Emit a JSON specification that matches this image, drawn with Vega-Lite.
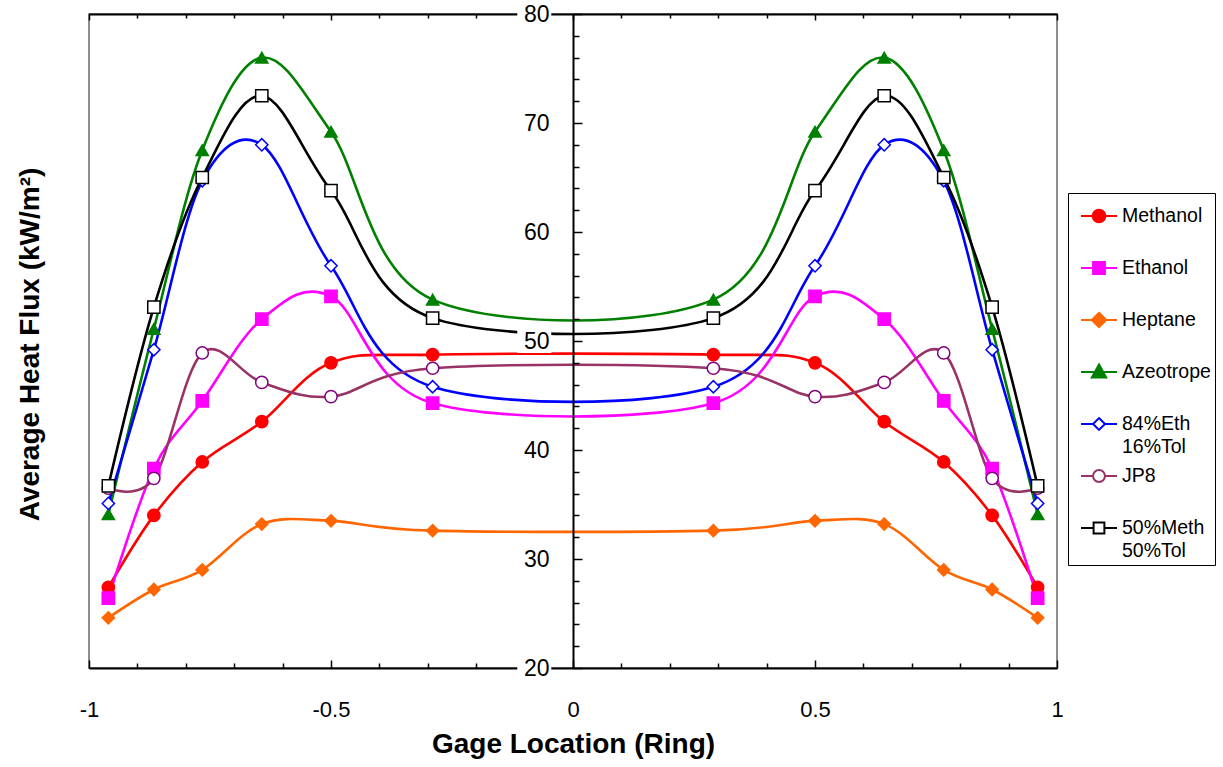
{
  "$schema": "https://vega.github.io/schema/vega-lite/v6.json",
  "width": 968,
  "height": 654,
  "autosize": {"type": "none"},
  "padding": {"left": 89, "top": 14, "right": 166, "bottom": 99},
  "background": "white",
  "view": {"stroke": "#8c8c8c", "strokeWidth": 2},
  "config": {
    "font": "Liberation Sans",
    "axis": {"grid": false, "labelFont": "Liberation Sans", "titleFont": "Liberation Sans"},
    "legend": {"labelFont": "Liberation Sans"}
  },
  "datasets": {
    "main": [
      {"f": "Methanol", "x": -0.96, "y": 27.4}, {"f": "Methanol", "x": -0.866, "y": 34.0}, {"f": "Methanol", "x": -0.766, "y": 38.9}, {"f": "Methanol", "x": -0.643, "y": 42.6}, {"f": "Methanol", "x": -0.5, "y": 48.0}, {"f": "Methanol", "x": -0.29, "y": 48.75},
      {"f": "Methanol", "x": 0.29, "y": 48.75}, {"f": "Methanol", "x": 0.5, "y": 48.0}, {"f": "Methanol", "x": 0.643, "y": 42.6}, {"f": "Methanol", "x": 0.766, "y": 38.9}, {"f": "Methanol", "x": 0.866, "y": 34.0}, {"f": "Methanol", "x": 0.96, "y": 27.4},
      {"f": "Ethanol", "x": -0.96, "y": 26.4}, {"f": "Ethanol", "x": -0.866, "y": 38.3}, {"f": "Ethanol", "x": -0.766, "y": 44.5}, {"f": "Ethanol", "x": -0.643, "y": 52.0}, {"f": "Ethanol", "x": -0.5, "y": 54.1}, {"f": "Ethanol", "x": -0.29, "y": 44.3},
      {"f": "Ethanol", "x": 0.29, "y": 44.3}, {"f": "Ethanol", "x": 0.5, "y": 54.1}, {"f": "Ethanol", "x": 0.643, "y": 52.0}, {"f": "Ethanol", "x": 0.766, "y": 44.5}, {"f": "Ethanol", "x": 0.866, "y": 38.3}, {"f": "Ethanol", "x": 0.96, "y": 26.4},
      {"f": "Heptane", "x": -0.96, "y": 24.6}, {"f": "Heptane", "x": -0.866, "y": 27.2}, {"f": "Heptane", "x": -0.766, "y": 29.0}, {"f": "Heptane", "x": -0.643, "y": 33.2}, {"f": "Heptane", "x": -0.5, "y": 33.5}, {"f": "Heptane", "x": -0.29, "y": 32.6},
      {"f": "Heptane", "x": 0.29, "y": 32.6}, {"f": "Heptane", "x": 0.5, "y": 33.5}, {"f": "Heptane", "x": 0.643, "y": 33.2}, {"f": "Heptane", "x": 0.766, "y": 29.0}, {"f": "Heptane", "x": 0.866, "y": 27.2}, {"f": "Heptane", "x": 0.96, "y": 24.6},
      {"f": "Azeotrope", "x": -0.96, "y": 34.1}, {"f": "Azeotrope", "x": -0.866, "y": 51.1}, {"f": "Azeotrope", "x": -0.766, "y": 67.5}, {"f": "Azeotrope", "x": -0.643, "y": 76.0}, {"f": "Azeotrope", "x": -0.5, "y": 69.2}, {"f": "Azeotrope", "x": -0.29, "y": 53.8},
      {"f": "Azeotrope", "x": 0.29, "y": 53.8}, {"f": "Azeotrope", "x": 0.5, "y": 69.2}, {"f": "Azeotrope", "x": 0.643, "y": 76.0}, {"f": "Azeotrope", "x": 0.766, "y": 67.5}, {"f": "Azeotrope", "x": 0.866, "y": 51.1}, {"f": "Azeotrope", "x": 0.96, "y": 34.1},
      {"f": "84%Eth 16%Tol", "x": -0.96, "y": 35.1}, {"f": "84%Eth 16%Tol", "x": -0.866, "y": 49.2}, {"f": "84%Eth 16%Tol", "x": -0.766, "y": 64.7}, {"f": "84%Eth 16%Tol", "x": -0.643, "y": 68.0}, {"f": "84%Eth 16%Tol", "x": -0.5, "y": 56.9}, {"f": "84%Eth 16%Tol", "x": -0.29, "y": 45.8},
      {"f": "84%Eth 16%Tol", "x": 0.29, "y": 45.8}, {"f": "84%Eth 16%Tol", "x": 0.5, "y": 56.9}, {"f": "84%Eth 16%Tol", "x": 0.643, "y": 68.0}, {"f": "84%Eth 16%Tol", "x": 0.766, "y": 64.7}, {"f": "84%Eth 16%Tol", "x": 0.866, "y": 49.2}, {"f": "84%Eth 16%Tol", "x": 0.96, "y": 35.1},
      {"f": "JP8", "x": -0.96, "y": 36.5}, {"f": "JP8", "x": -0.866, "y": 37.4}, {"f": "JP8", "x": -0.766, "y": 48.9}, {"f": "JP8", "x": -0.643, "y": 46.2}, {"f": "JP8", "x": -0.5, "y": 44.9}, {"f": "JP8", "x": -0.29, "y": 47.5},
      {"f": "JP8", "x": 0.29, "y": 47.5}, {"f": "JP8", "x": 0.5, "y": 44.9}, {"f": "JP8", "x": 0.643, "y": 46.2}, {"f": "JP8", "x": 0.766, "y": 48.9}, {"f": "JP8", "x": 0.866, "y": 37.4}, {"f": "JP8", "x": 0.96, "y": 36.5},
      {"f": "50%Meth 50%Tol", "x": -0.96, "y": 36.7}, {"f": "50%Meth 50%Tol", "x": -0.866, "y": 53.1}, {"f": "50%Meth 50%Tol", "x": -0.766, "y": 65.0}, {"f": "50%Meth 50%Tol", "x": -0.643, "y": 72.5}, {"f": "50%Meth 50%Tol", "x": -0.5, "y": 63.8}, {"f": "50%Meth 50%Tol", "x": -0.29, "y": 52.1},
      {"f": "50%Meth 50%Tol", "x": 0.29, "y": 52.1}, {"f": "50%Meth 50%Tol", "x": 0.5, "y": 63.8}, {"f": "50%Meth 50%Tol", "x": 0.643, "y": 72.5}, {"f": "50%Meth 50%Tol", "x": 0.766, "y": 65.0}, {"f": "50%Meth 50%Tol", "x": 0.866, "y": 53.1}, {"f": "50%Meth 50%Tol", "x": 0.96, "y": 36.7}
    ],
    "ticks": [{"v": 20}, {"v": 30}, {"v": 40}, {"v": 50}, {"v": 60}, {"v": 70}, {"v": 80}]
  },
  "resolve": {"scale": {"x": "independent", "y": "independent"}},
  "layer": [
    {
      "data": {"name": "main"},
      "encoding": {
        "x": {
          "field": "x", "type": "quantitative",
          "scale": {"domain": [-1, 1], "nice": false, "zero": false},
          "axis": {
            "orient": "bottom",
            "values": [-1, -0.9, -0.8, -0.7, -0.6, -0.5, -0.4, -0.3, -0.2, -0.1, 0, 0.1, 0.2, 0.3, 0.4, 0.5, 0.6, 0.7, 0.8, 0.9, 1],
            "labelExpr": "(datum.value == -1 || datum.value == -0.5 || datum.value == 0 || datum.value == 0.5 || datum.value == 1) ? '' + datum.value : ''",
            "tickSize": {"condition": {"test": "abs(datum.value * 2 - round(datum.value * 2)) < 0.001", "value": -8}, "value": -5},
            "tickColor": "black", "tickWidth": 1.5,
            "domainColor": "black", "domainWidth": 2,
            "labelFontSize": 22, "labelColor": "black", "labelPadding": 39,
            "labelFlush": false, "labelOverlap": false, "labelBound": false,
            "title": "Gage Location (Ring)", "titleFontSize": 28, "titleFontWeight": "bold", "titleColor": "black", "titlePadding": 7,
            "zindex": 0
          }
        },
        "y": {
          "field": "y", "type": "quantitative",
          "scale": {"domain": [20, 80], "nice": false, "zero": false},
          "axis": {
            "orient": "left", "offset": -484,
            "values": [20, 22, 24, 26, 28, 30, 32, 34, 36, 38, 40, 42, 44, 46, 48, 50, 52, 54, 56, 58, 60, 62, 64, 66, 68, 70, 72, 74, 76, 78, 80],
            "labelExpr": "datum.value % 10 == 0 ? datum.label : ''",
            "tickSize": {"condition": {"test": "datum.value % 10 == 0", "value": -9}, "value": -6},
            "tickColor": "black", "tickWidth": 1.5,
            "domainColor": "black", "domainWidth": 2,
            "labelFontSize": 23, "labelColor": "black", "labelPadding": 33,
            "labelFlush": false, "labelOverlap": false, "labelBound": false,
            "title": null, "zindex": 1
          }
        }
      },
      "layer": [
        {
          "mark": {"type": "line", "interpolate": "cardinal", "strokeWidth": 2.6},
          "encoding": {
            "color": {
              "field": "f", "type": "nominal",
              "scale": {
                "domain": ["Methanol", "Ethanol", "Heptane", "Azeotrope", "84%Eth 16%Tol", "JP8", "50%Meth 50%Tol"],
                "range": ["#ff0000", "#ff00ff", "#ff6600", "#008000", "#0000ff", "#993366", "#000000"]
              },
              "legend": {
                "orient": "none", "legendX": 979, "legendY": 179,
                "title": null,
                "fillColor": "white", "strokeColor": "black", "padding": 4,
                "labelFontSize": 19.5, "labelColor": "black", "labelOffset": 4, "labelLimit": 200,
                "rowPadding": 0,
                "symbolSize": 1296, "symbolOffset": 8, "symbolStrokeWidth": 2, "symbolOpacity": 1,
                "labelExpr": "datum.label == '84%Eth 16%Tol' ? ['84%Eth', '16%Tol'] : datum.label == '50%Meth 50%Tol' ? ['50%Meth', '50%Tol'] : [datum.label, '']",
                "encode": {
                  "symbols": {
                    "update": {
                      "shape": {"signal": "datum.value == 'Methanol' ? 'M-1,0L-0.35,0M0.35,0L1,0M0.35,0A0.35,0.35,0,1,1,-0.35,0A0.35,0.35,0,1,1,0.35,0Z' : datum.value == 'Ethanol' ? 'M-1,0L-0.33,0M0.33,0L1,0M-0.33,-0.33L0.33,-0.33L0.33,0.33L-0.33,0.33Z' : datum.value == 'Heptane' ? 'M-1,0L-0.4,0M0.4,0L1,0M0,-0.4L0.4,0L0,0.4L-0.4,0Z' : datum.value == 'Azeotrope' ? 'M-1,0L-0.25,0M0.25,0L1,0M0,-0.42L0.4,0.3L-0.4,0.3Z' : datum.value == '84%Eth 16%Tol' ? 'M-1,0L-0.33,0M0.33,0L1,0M0,-0.33L0.33,0L0,0.33L-0.33,0Z' : datum.value == 'JP8' ? 'M-1,0L-0.33,0M0.33,0L1,0M0.33,0A0.33,0.33,0,1,1,-0.33,0A0.33,0.33,0,1,1,0.33,0Z' : 'M-1,0L-0.3,0M0.3,0L1,0M-0.3,-0.3L0.3,-0.3L0.3,0.3L-0.3,0.3Z'"},
                      "fill": {"signal": "indexof(['84%Eth 16%Tol', 'JP8', '50%Meth 50%Tol'], datum.value) >= 0 ? 'white' : scale('color', datum.value)"},
                      "strokeWidth": {"value": 2},
                      "opacity": {"value": 1},
                      "size": {"value": 1296}
                    }
                  },
                  "labels": {
                    "update": {
                      "lineHeight": {"value": 23}
                    }
                  }
                }
              }
            }
          }
        },
        {
          "mark": {"type": "point", "size": 150, "strokeWidth": 1.5, "opacity": 1},
          "encoding": {
            "shape": {
              "field": "f", "type": "nominal",
              "scale": {
                "domain": ["50%Meth 50%Tol", "JP8", "84%Eth 16%Tol", "Azeotrope", "Heptane", "Ethanol", "Methanol"],
                "range": ["square", "circle", "diamond", "triangle-up", "diamond", "square", "circle"]
              },
              "legend": null
            },
            "fill": {
              "field": "f", "type": "nominal",
              "scale": {
                "domain": ["50%Meth 50%Tol", "JP8", "84%Eth 16%Tol", "Azeotrope", "Heptane", "Ethanol", "Methanol"],
                "range": ["#ffffff", "#ffffff", "#ffffff", "#008000", "#ff6600", "#ff00ff", "#ff0000"]
              },
              "legend": null
            },
            "stroke": {
              "field": "f", "type": "nominal",
              "scale": {
                "domain": ["50%Meth 50%Tol", "JP8", "84%Eth 16%Tol", "Azeotrope", "Heptane", "Ethanol", "Methanol"],
                "range": ["#000000", "#800080", "#0000ff", "#008000", "#ff6600", "#ff00ff", "#ff0000"]
              },
              "legend": null
            }
          }
        }
      ]
    },
    {
      "data": {"name": "ticks"},
      "mark": {"type": "point", "shape": "M-1,-0.7L1,-0.7L1,0.7L-1,0.7Z", "size": 1156, "fill": "white", "filled": true, "strokeWidth": 0, "opacity": 1},
      "encoding": {
        "x": {
          "datum": -0.08, "type": "quantitative",
          "scale": {"domain": [-1, 1], "nice": false, "zero": false},
          "axis": {
            "orient": "top",
            "values": [-1, -0.9, -0.8, -0.7, -0.6, -0.5, -0.4, -0.3, -0.2, -0.1, 0, 0.1, 0.2, 0.3, 0.4, 0.5, 0.6, 0.7, 0.8, 0.9, 1],
            "labels": false,
            "tickSize": {"condition": {"test": "abs(datum.value * 2 - round(datum.value * 2)) < 0.001", "value": -6}, "value": -4},
            "tickColor": "black", "tickWidth": 1.5,
            "domainColor": "black", "domainWidth": 2,
            "title": null, "zindex": 0
          }
        },
        "y": {
          "field": "v", "type": "quantitative",
          "scale": {"domain": [20, 80], "nice": false, "zero": false},
          "axis": {
            "orient": "left", "domain": false, "ticks": false, "labels": false,
            "title": "Average Heat Flux (kW/m²)", "titleFontSize": 28, "titleFontWeight": "bold", "titleColor": "black",
            "titleX": -59, "titleY": 330, "titleAngle": -90, "titleAlign": "center", "titleBaseline": "middle"
          }
        }
      }
    }
  ]
}
